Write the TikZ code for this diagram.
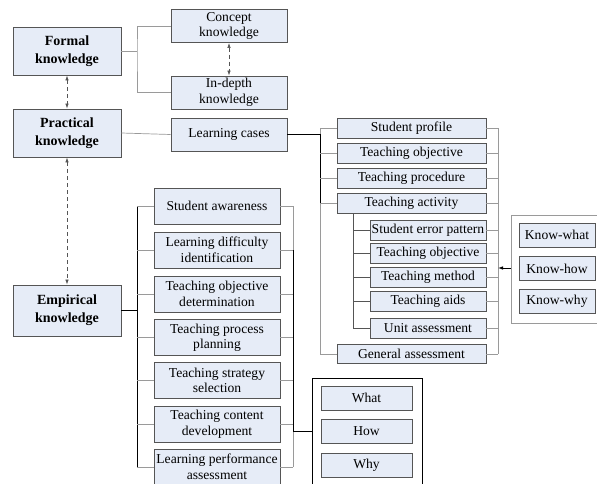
\documentclass[tikz,border=0pt]{standalone}
\usepackage{fontspec}
\setmainfont{Liberation Serif}
\usetikzlibrary{arrows.meta}
\definecolor{Panel}{HTML}{E6ECF7}
\definecolor{Edge}{HTML}{555555}
\definecolor{Wire}{HTML}{9A9A9A}

\begin{document}
\begin{tikzpicture}[x=1pt,y=-1pt,
  box/.style={draw=Edge,line width=0.9pt,fill=Panel,align=center,inner sep=1pt,
    font=\fontsize{13.6}{15.5}\selectfont},
  main/.style={box,minimum width=108pt,font=\fontsize{14}{18}\selectfont\bfseries},
  topbox/.style={box,minimum width=116pt,minimum height=33pt},
  casebox/.style={box,minimum width=149pt,minimum height=19.5pt},
  subbox/.style={box,minimum width=116pt,minimum height=19.5pt},
  midbox/.style={box,minimum width=126pt,minimum height=36pt},
  knowbox/.style={box,minimum width=76pt,minimum height=24pt},
  qbox/.style={box,minimum width=91pt,minimum height=24pt},
  link/.style={draw=Wire,line width=0.7pt},
  strong/.style={draw=black,line width=0.8pt},
  dlink/.style={draw=Edge,line width=0.6pt,dashed,dash pattern=on 4pt off 3pt,
    {Latex[length=5pt,width=3.5pt]}-{Latex[length=5pt,width=3.5pt]}}
]
\useasboundingbox (0,0) rectangle (597,484);

% knowledge levels
\node[main,minimum height=48pt] (formal) at (67,51) {Formal\\knowledge};
\node[main,minimum height=48pt] (practical) at (67,133) {Practical\\knowledge};
\node[main,minimum height=51pt] (empirical) at (67,310.5) {Empirical\\knowledge};

\node[topbox] (concept) at (229,26) {Concept\\knowledge};
\node[topbox] (indepth) at (229,92.5) {In-depth\\knowledge};
\node[topbox] (cases) at (229,134.5) {Learning cases};

% learning cases items
\node[casebox] (profile) at (411.5,128.5) {Student profile};
\node[casebox] (objective) at (411.5,153.5) {Teaching objective};
\node[casebox] (procedure) at (411.5,178.5) {Teaching procedure};
\node[casebox] (activity) at (411.5,203.5) {Teaching activity};
\node[subbox] (error) at (428,230.5) {Student error pattern};
\node[subbox] (subobj) at (428,253.5) {Teaching objective};
\node[subbox] (method) at (428,277.5) {Teaching method};
\node[subbox] (aids) at (428,301.5) {Teaching aids};
\node[subbox] (unit) at (428,328.5) {Unit assessment};
\node[casebox] (general) at (411.5,354) {General assessment};

\node[knowbox] (kwhat) at (557,235) {Know-what};
\node[knowbox] (khow) at (557,268.5) {Know-how};
\node[knowbox] (kwhy) at (557,301) {Know-why};

% empirical items
\node[midbox] (aware) at (217,206) {Student awareness};
\node[midbox] (difficulty) at (217,250) {Learning difficulty\\identification};
\node[midbox] (determine) at (217,294) {Teaching objective\\determination};
\node[midbox] (planning) at (217,337.5) {Teaching process\\planning};
\node[midbox] (strategy) at (217,380.5) {Teaching strategy\\selection};
\node[midbox] (content) at (217,424) {Teaching content\\development};
\node[midbox] (perform) at (217,467) {Learning performance\\assessment};

\node[qbox] (what) at (366.5,398) {What};
\node[qbox] (how) at (366.5,431.5) {How};
\node[qbox] (why) at (366.5,465) {Why};

\coordinate (fbus) at (137,51);
\coordinate (lbus) at (320,134.5);
\coordinate (rbus) at (498,268);
\coordinate (sbus) at (353,213);
\coordinate (mbus) at (137,310.5);
\coordinate (ebus) at (293,431);
\coordinate (kopen) at (511,268);
\coordinate (qopen) at (312,431);

% formal branch
\draw[link] (formal.east) -- (fbus);
\draw[link] (concept.west) -| (fbus) |- (indepth.west);
\draw[dlink] (concept.south) -- (indepth.north);
\draw[dlink] (formal.south) -- (practical.north);
\draw[dlink] (practical.south) -- (empirical.north);

% practical branch
\draw[link] (practical.east) -- (cases.west);
\draw[strong] (cases.east) -- (lbus);
\draw[link] (profile.west -| lbus) -- (general.west -| lbus);
\draw[strong] (lbus) -- (activity.west -| lbus);
\foreach \n in {profile,objective,procedure,activity,general}
  \draw[link] (\n.west) -- (\n.west -| lbus);
\draw[strong,draw=Edge] (sbus) -- (unit.west -| sbus);
\foreach \n in {error,subobj,method,aids,unit}
  \draw[strong,draw=Edge] (\n.west) -- (\n.west -| sbus);
\draw[link] (profile.east -| rbus) -- (general.east -| rbus);
\foreach \n in {profile,objective,procedure,activity,error,subobj,method,aids,unit,general}
  \draw[link] (\n.east) -- (\n.east -| rbus);
\draw[strong,-{Latex[length=5pt,width=3.5pt]}] (kopen) -- (rbus);
\draw[link] (597,215) -- (511,215) -- (511,323) -- (597,323);

% empirical branch
\draw[strong] (empirical.east) -- (mbus);
\draw[strong] (aware.west -| mbus) -- (perform.west -| mbus);
\foreach \n in {aware,difficulty,determine,planning,strategy,content,perform}
  \draw[link] (\n.west) -- (\n.west -| mbus);
\draw[link] (aware.east -| ebus) -- (perform.east -| ebus);
\foreach \n in {aware,difficulty,determine,planning,strategy,content,perform}
  \draw[link] (\n.east) -- (\n.east -| ebus);
\draw[strong] (difficulty.east -| ebus) -- (ebus) -- (qopen);
\draw[strong] (312,484) -- (312,378) -- (422,378) -- (422,484);
\end{tikzpicture}
\end{document}
